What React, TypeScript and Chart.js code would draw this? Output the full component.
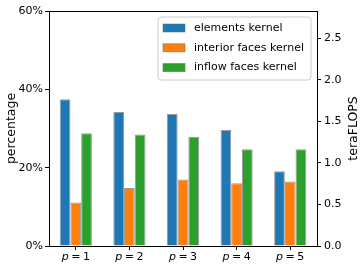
import React, { useEffect, useRef } from "react";
import { Chart, registerables } from "chart.js";

Chart.register(...registerables);

const P_VALUES = ["1", "2", "3", "4", "5"];
const SERIES_LABELS = ["elements kernel", "interior faces kernel", "inflow faces kernel"];
const SERIES_COLORS = ["#1f77b4", "#ff7f0e", "#2ca02c"];
const ELEMENTS = [37.5, 34.2, 33.7, 29.6, 19.1];
const INTERIOR = [11.1, 14.8, 17.0, 16.0, 16.5];
const INFLOW = [28.8, 28.5, 27.9, 24.7, 24.7];
const LEFT_TICKS = [0, 20, 40, 60];
const RIGHT_TICKS = [0, 0.5, 1.0, 1.5, 2.0, 2.5];
const RIGHT_MAX = 2.83;
const RIGHT_TITLE = "teraFLOPS";

const FONT = "'DejaVu Sans', sans-serif";

const overlay = {
  id: "overlay",
  afterDraw(chart: any) {
    const { ctx, chartArea: a, scales } = chart;
    ctx.save();
    // top spine
    ctx.strokeStyle = "#000";
    ctx.lineWidth = 1;
    ctx.beginPath();
    ctx.moveTo(a.left, Math.round(a.top) + 0.5);
    ctx.lineTo(a.right, Math.round(a.top) + 0.5);
    ctx.stroke();

    // right axis title (reads bottom-to-top)
    ctx.save();
    ctx.translate(354, (a.top + a.bottom) / 2);
    ctx.rotate(-Math.PI / 2);
    ctx.fillStyle = "#000";
    ctx.font = `12.5px ${FONT}`;
    ctx.textAlign = "center";
    ctx.textBaseline = "middle";
    ctx.fillText(RIGHT_TITLE, 0, 0);
    ctx.restore();

    // x tick labels with italic p
    const xs = scales.x;
    ctx.fillStyle = "#000";
    ctx.textBaseline = "alphabetic";
    P_VALUES.forEach((pv, i) => {
      const cx = xs.getPixelForValue(i);
      ctx.font = `italic 11px ${FONT}`;
      const wp = ctx.measureText("p").width;
      ctx.font = `11px ${FONT}`;
      const we = ctx.measureText("=").width;
      const wn = ctx.measureText(pv).width;
      const gap = 2.5;
      const total = wp + gap + we + gap + wn;
      let x = cx - total / 2;
      const y = a.bottom + 14;
      ctx.font = `italic 11px ${FONT}`;
      ctx.textAlign = "left";
      ctx.fillText("p", x, y);
      x += wp + gap;
      ctx.font = `11px ${FONT}`;
      ctx.fillText("=", x, y);
      x += we + gap;
      ctx.fillText(pv, x, y);
    });

    // legend
    const lx = 158, ly = 17, lw = 153, lh = 63, r = 3;
    ctx.beginPath();
    ctx.moveTo(lx + r, ly);
    ctx.lineTo(lx + lw - r, ly);
    ctx.arcTo(lx + lw, ly, lx + lw, ly + r, r);
    ctx.lineTo(lx + lw, ly + lh - r);
    ctx.arcTo(lx + lw, ly + lh, lx + lw - r, ly + lh, r);
    ctx.lineTo(lx + r, ly + lh);
    ctx.arcTo(lx, ly + lh, lx, ly + lh - r, r);
    ctx.lineTo(lx, ly + r);
    ctx.arcTo(lx, ly, lx + r, ly, r);
    ctx.closePath();
    ctx.fillStyle = "rgba(255,255,255,0.8)";
    ctx.fill();
    ctx.strokeStyle = "#cccccc";
    ctx.lineWidth = 1;
    ctx.stroke();

    const ds = chart.data.datasets;
    ds.forEach((d: any, i: number) => {
      const cy = 28 + i * 19.8;
      ctx.fillStyle = d.backgroundColor;
      ctx.fillRect(163, cy - 4, 22, 8);
      ctx.strokeStyle = "rgba(110,110,110,0.7)";
      ctx.lineWidth = 0.8;
      ctx.strokeRect(163, cy - 4, 22, 8);
      ctx.fillStyle = "#000";
      ctx.font = `11px ${FONT}`;
      ctx.textAlign = "left";
      ctx.textBaseline = "middle";
      ctx.fillText(d.label, 194, cy);
    });
    ctx.restore();
  },
};

export default function App() {
  const ref = useRef<HTMLCanvasElement>(null);
  useEffect(() => {
    document.body.style.margin = "0";
    const canvas = ref.current!;
    const values = [ELEMENTS, INTERIOR, INFLOW];
    const chart = new Chart(canvas, {
      type: "bar",
      data: {
        labels: P_VALUES.map((p) => `p = ${p}`),
        datasets: SERIES_LABELS.map((label, i) => ({
          label,
          data: values[i],
          backgroundColor: SERIES_COLORS[i],
          borderColor: "rgba(110,110,110,0.7)",
          borderWidth: 1,
          yAxisID: "y",
          categoryPercentage: 0.6,
          barPercentage: 1.0,
        })),
      },
      options: {
        animation: false,
        responsive: false,
        layout: { padding: { top: 11, left: 0, right: 0, bottom: 0 } },
        plugins: { legend: { display: false }, tooltip: { enabled: false } },
        scales: {
          x: {
            offset: true,
            grid: { display: true, drawOnChartArea: false, offset: false, tickLength: 4, color: "#000" },
            border: { color: "#000", width: 1 },
            ticks: { display: false },
            afterFit: (s: any) => { s.height = 27; },
          },
          y: {
            position: "left",
            min: 0,
            max: 60,
            afterBuildTicks: (s: any) => { s.ticks = LEFT_TICKS.map((v) => ({ value: v })); },
            ticks: {
              color: "#000",
              font: { family: FONT, size: 11 },
              padding: 2,
              callback: (v: any) => `${v}%`,
            },
            grid: { display: true, drawOnChartArea: false, tickLength: 4, color: "#000" },
            border: { color: "#000", width: 1 },
            title: { display: true, text: "percentage", color: "#000", font: { family: FONT, size: 12.5 }, padding: { top: 4.5, bottom: 0 } },
            afterFit: (s: any) => { s.width = 49; },
          },
          y1: {
            position: "right",
            display: true,
            min: 0,
            max: RIGHT_MAX,
            afterBuildTicks: (s: any) => { s.ticks = RIGHT_TICKS.map((v) => ({ value: v })); },
            ticks: {
              color: "#000",
              font: { family: FONT, size: 11 },
              padding: 3,
              callback: (v: any) => Number(v).toFixed(1),
            },
            grid: { display: true, drawOnChartArea: false, tickLength: 4, color: "#000" },
            border: { color: "#000", width: 1 },
            title: { display: false },
            afterFit: (s: any) => { s.width = 43; },
          },
        },
      },
      plugins: [overlay],
    } as any);
    return () => chart.destroy();
  }, []);
  return <canvas ref={ref} width={360} height={273} style={{ display: "block" }} />;
}
